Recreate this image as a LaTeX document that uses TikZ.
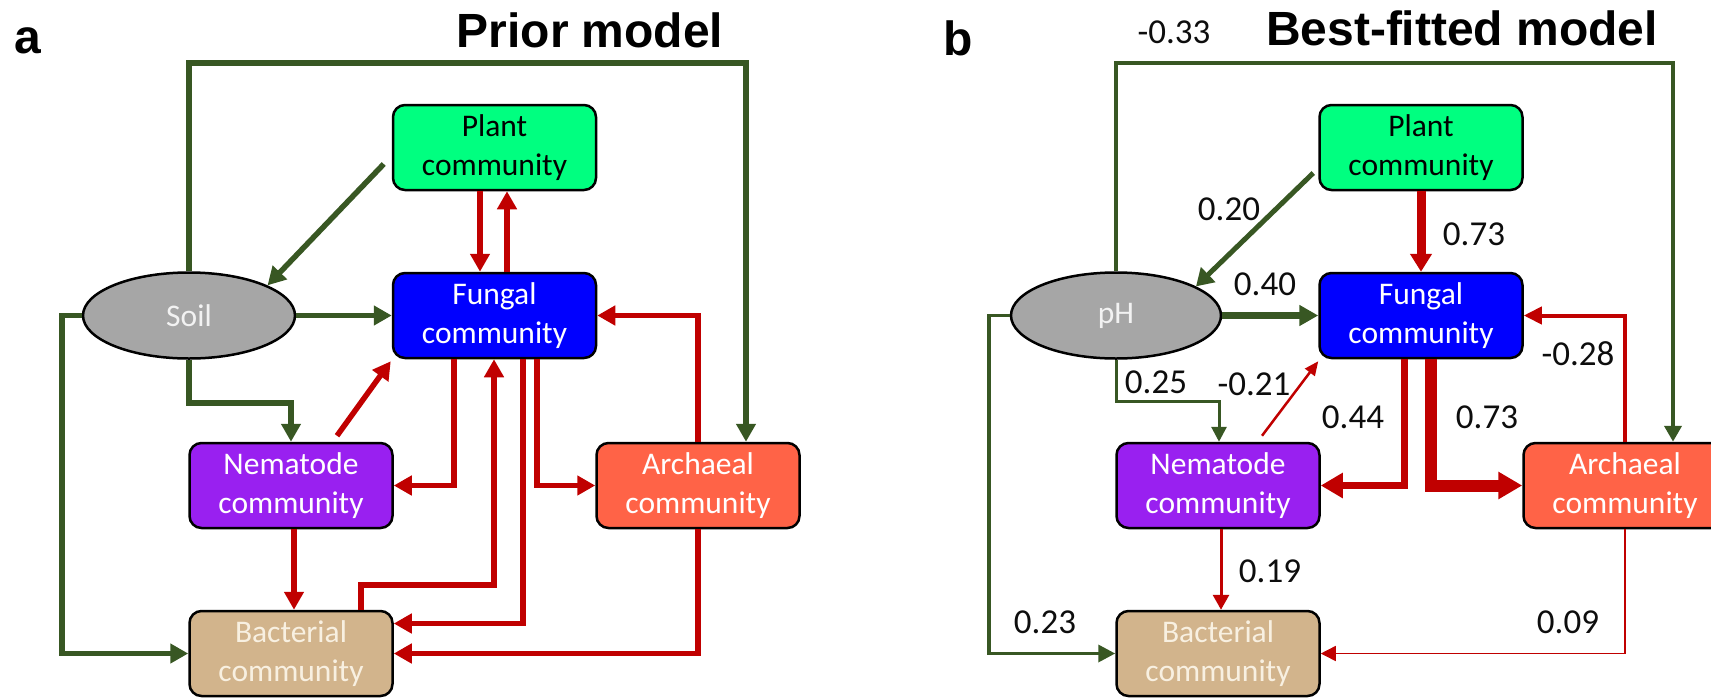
\documentclass[tikz,border=0pt]{standalone}
\usepackage{fontspec}
\setmainfont{Carlito}
\newfontfamily\headfont{Liberation Sans}
\usetikzlibrary{arrows.meta,shapes.geometric,calc}
\definecolor{dgreen}{RGB}{56,87,35}
\definecolor{dred}{RGB}{192,0,0}
\definecolor{plantc}{RGB}{0,255,128}
\definecolor{fungc}{RGB}{0,0,255}
\definecolor{nemc}{RGB}{153,32,240}
\definecolor{archc}{RGB}{255,99,71}
\definecolor{bacc}{RGB}{210,180,140}
\definecolor{soilc}{RGB}{166,166,166}
\definecolor{bactxt}{RGB}{248,240,225}
\definecolor{soiltxt}{RGB}{242,242,242}
\begin{document}
\begin{tikzpicture}[x=1pt,y=-1pt,
  comm/.style={draw=black,line width=2.5pt,rounded corners=12pt,minimum width=203pt,minimum height=85pt,inner sep=0pt,align=center,font=\fontsize{31.5}{38.5}\selectfont},
  env/.style={ellipse,draw=black,line width=2.5pt,fill=soilc,minimum width=212pt,minimum height=86pt,inner sep=0pt,text=soiltxt,font=\fontsize{31.5}{38.5}\selectfont},
  lab/.style={inner sep=0pt,font=\fontsize{35}{40}\selectfont,text=black!95},
  head/.style={inner sep=0pt,font=\headfont\bfseries\fontsize{48}{52}\selectfont},
  ga/.style={draw=dgreen,line width=5.5pt,-{Triangle[length=18pt,width=19pt]}},
  ra/.style={draw=dred,line width=5.5pt,-{Triangle[length=18pt,width=19pt]}},
  gline/.style args={#1/#2/#3}{draw=dgreen,line width=#1pt,-{Triangle[length=#2pt,width=#3pt]}},
  rline/.style args={#1/#2/#3}{draw=dred,line width=#1pt,-{Triangle[length=#2pt,width=#3pt]}}
]
\useasboundingbox (0,0) rectangle (1711,697);
% ---------- panel a ----------
\node[head,anchor=base west] (labA) at (14,53) {a};
\node[head,anchor=base] (titleA) at (590,47) {Prior model};
\node[comm,fill=plantc,text=black] (plantA) at (494.5,147.5) {Plant\\community};
\node[comm,fill=fungc,text=white] (funA) at (494.5,315.5) {Fungal\\community};
\node[env] (soilA) at (189,315.5) {Soil};
\node[comm,fill=nemc,text=white] (nemA) at (291,485.5) {Nematode\\community};
\node[comm,fill=archc,text=white] (archA) at (698,485.5) {Archaeal\\community};
\node[comm,fill=bacc,text=bactxt] (bacA) at (291,653.5) {Bacterial\\community};
\coordinate (topA) at (0,63);
\draw[ga] (soilA.north) -- (soilA.north |- topA) -| ($(archA.north)+(48,0)$);
\draw[ga] ($(plantA.west)+(-8,16.5)$) -- (soilA.21);
\draw[ga] (soilA.east) -- (funA.west);
\draw[ga] (soilA.south) -- ++(0,43) -| (nemA.north);
\draw[ga] (soilA.west) -- ++(-20,0) |- (bacA.west);
\draw[ra] ($(plantA.south)+(-14.5,0)$) -- ($(funA.north)+(-14.5,0)$);
\draw[ra] ($(funA.north)+(12.5,0)$) -- ($(plantA.south)+(12.5,0)$);
\draw[ra] ($(nemA.north)+(46,-6)$) -- ($(funA.south west)+(-1,2)$);
\draw[ra] ($(funA.south)+(-40.5,0)$) |- (nemA.east);
\draw[ra] ($(funA.south)+(42.5,0)$) |- (archA.west);
\draw[ra] ($(bacA.north)+(70,0)$) -- ++(0,-25) -| ($(funA.south)+(-0.5,0)$);
\draw[ra] ($(funA.south)+(28.5,0)$) |- ($(bacA.east)+(0,-30)$);
\draw[ra] ($(nemA.south)+(3,0)$) -- ($(bacA.north)+(3,0)$);
\draw[ra] (archA.north) |- (funA.east);
\draw[ra] (archA.south) |- (bacA.east);
% ---------- panel b ----------
\node[head,anchor=base west] (labB) at (943,55) {b};
\node[head,anchor=base] (titleB) at (1462,45) {Best-fitted model};
\node[comm,fill=plantc,text=black] (plantB) at (1421,147.5) {Plant\\community};
\node[comm,fill=fungc,text=white] (funB) at (1421,315.5) {Fungal\\community};
\node[env,minimum width=210pt] (pH) at (1116,315.5) {pH};
\node[comm,fill=nemc,text=white] (nemB) at (1218,485.5) {Nematode\\community};
\node[comm,fill=archc,text=white] (archB) at (1625,485.5) {Archaeal\\community};
\node[comm,fill=bacc,text=bactxt] (bacB) at (1218,653.5) {Bacterial\\community};
\draw[gline=4/16/17] (pH.north) -- (pH.north |- topA) -| ($(archB.north)+(48,0)$);
\draw[gline=5/17/20] ($(plantB.west)+(-5,25.5)$) -- (pH.20);
\draw[rline=9/18/21] (plantB.south) -- (funB.north);
\draw[gline=6.5/19/20] (pH.east) -- (funB.west);
\draw[gline=3/15/15] (pH.south) -- ++(0,42) -| ($(nemB.north)+(1,0)$);
\draw[rline=2.5/14/12] ($(nemB.north)+(44,-6)$) -- ($(funB.south west)+(0,2)$);
\draw[rline=7/22/24] ($(funB.south)+(-17,0)$) |- (nemB.east);
\draw[rline=12/24/26] ($(funB.south)+(10,0)$) |- (archB.west);
\draw[rline=4/18/17] (archB.north) |- (funB.east);
\draw[rline=3/15/16] ($(nemB.south)+(3,0)$) -- ($(bacB.north)+(3,0)$);
\draw[gline=3.5/17/17] (pH.west) -- ++(-21,0) |- (bacB.west);
\draw[rline=1.5/15/15] (archB.south) |- (bacB.east);
\node[lab,anchor=base] (l033) at (1174,43) {-0.33};
\node[lab] (l020) at (1229,209) {0.20};
\node[lab] (l073a) at (1474,234) {0.73};
\node[lab] (l040) at (1265,284) {0.40};
\node[lab] (l025) at (1156,382) {0.25};
\node[lab] (l021) at (1254,384) {-0.21};
\node[lab] (l044) at (1353,417) {0.44};
\node[lab] (l073b) at (1487,417) {0.73};
\node[lab] (l028) at (1578,354) {-0.28};
\node[lab] (l019) at (1270,571) {0.19};
\node[lab] (l023) at (1045,622) {0.23};
\node[lab] (l009) at (1568,622) {0.09};
\end{tikzpicture}
\end{document}
